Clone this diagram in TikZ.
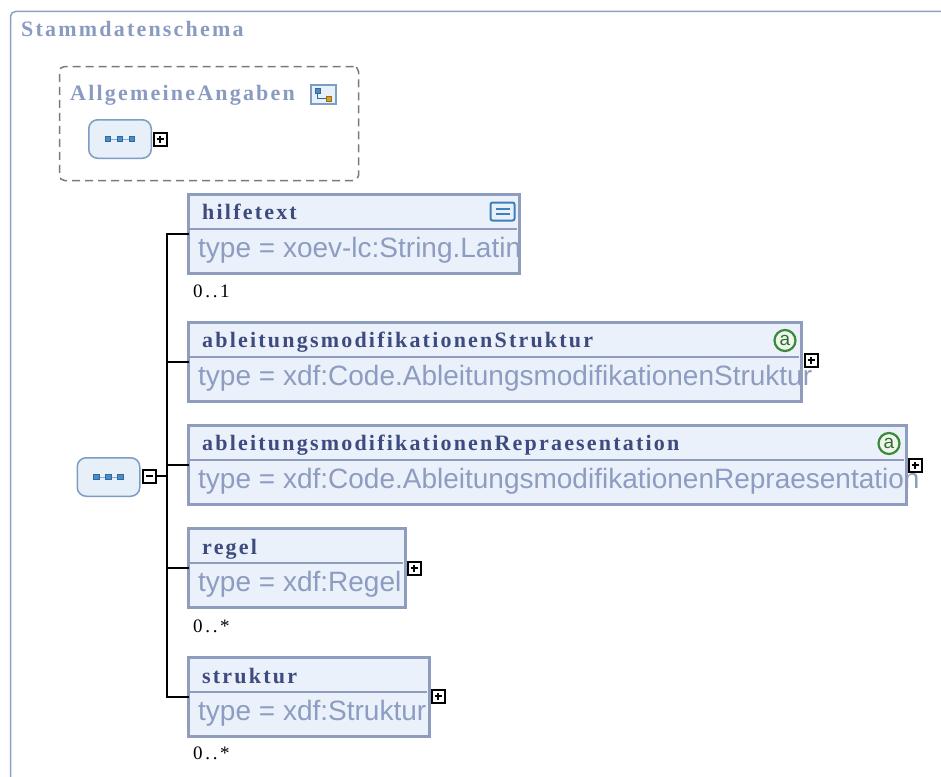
\documentclass[tikz,border=0pt]{standalone}
\usepackage{fontspec}
\setmainfont{Liberation Serif}
\newfontfamily\lblfont{Liberation Serif}[LetterSpace=10]
\newfontfamily\cardfont{Liberation Serif}[LetterSpace=14]
\newfontfamily\typefont{Liberation Sans}
\newfontfamily\iconfont{Liberation Sans}
\definecolor{framecol}{HTML}{8EA0C4}
\definecolor{titlecol}{HTML}{8A9BC2}
\definecolor{boxborder}{HTML}{8E9CBD}
\definecolor{boxfill}{HTML}{EAF1FB}
\definecolor{lblcol}{HTML}{3D4B7E}
\definecolor{typecol}{HTML}{8D9CC0}
\definecolor{seqborder}{HTML}{7D9DC3}
\definecolor{seqfill}{HTML}{E7EFF8}
\definecolor{seqsq}{HTML}{4A8CC4}
\definecolor{seqsqd}{HTML}{2F6A9E}
\definecolor{grpgray}{HTML}{7A7A7A}
\definecolor{iconblue}{HTML}{3F80BA}
\definecolor{iconfill}{HTML}{E8F0FA}
\definecolor{attrgreen}{HTML}{3A8A3A}
\definecolor{attrfill}{HTML}{EEF6EE}
\definecolor{grporange}{HTML}{D4A02A}
\begin{document}
\begin{tikzpicture}[x=1pt,y=-1pt,
  elembox/.style={rectangle, fill=boxfill, inner sep=0pt, outer sep=0pt, anchor=north west, minimum height=79pt},
  boxframe/.style={draw=boxborder, line width=3pt},
  divider/.style={draw=boxborder, line width=2pt},
  lbl/.style={anchor=base west, inner sep=0pt, text=lblcol, font={\lblfont\bfseries\fontsize{22}{26}\selectfont}},
  titletxt/.style={anchor=base west, inner sep=0pt, text=titlecol, font={\lblfont\bfseries\fontsize{22}{26}\selectfont}},
  typetxt/.style={anchor=base west, inner sep=0pt, text=typecol, font={\typefont\fontsize{28}{32}\selectfont}},
  card/.style={anchor=base west, inner sep=0pt, text=black, font={\cardfont\fontsize{19}{21}\selectfont}},
  plusbox/.style={rectangle, draw=black, fill=white, line width=2pt, minimum size=13pt, inner sep=0pt,
    path picture={\draw[line width=1.5pt] ([xshift=-3.5pt]path picture bounding box.center) -- ([xshift=3.5pt]path picture bounding box.center);
                  \draw[line width=1.5pt] ([yshift=-3.5pt]path picture bounding box.center) -- ([yshift=3.5pt]path picture bounding box.center);}},
  minusbox/.style={rectangle, draw=black, fill=white, line width=2pt, minimum size=13pt, inner sep=0pt,
    path picture={\draw[line width=1.5pt] ([xshift=-3.5pt]path picture bounding box.center) -- ([xshift=3.5pt]path picture bounding box.center);}},
  seqbox/.style={rectangle, rounded corners=9pt, draw=seqborder, fill=seqfill, line width=1.5pt,
    minimum width=62.5pt, minimum height=38.5pt, inner sep=0pt,
    path picture={
      \draw[sharp corners, seqsq!70!white, line width=1pt] ([xshift=-12pt]path picture bounding box.center) -- ([xshift=12pt]path picture bounding box.center);
      \foreach \dx in {-12,0,12}{\draw[sharp corners, seqsqd, fill=seqsq, line width=0.8pt] ([xshift=\dx pt-2.8pt, yshift=-2.8pt]path picture bounding box.center) rectangle ([xshift=\dx pt+2.8pt, yshift=2.8pt]path picture bounding box.center);}
    }},
  conn/.style={draw=black, line width=2pt},
  attr/.style={circle, draw=attrgreen, fill=attrfill, line width=2.2pt, minimum size=21pt, inner sep=0pt,
    text=attrgreen!80!black, font={\iconfont\fontsize{19}{19}\selectfont}},
  texticon/.style={rectangle, rounded corners=2pt, draw=iconblue, fill=iconfill, line width=2pt,
    minimum width=24pt, minimum height=18pt, inner sep=0pt,
    path picture={
      \draw[sharp corners, iconblue, line width=1.5pt] ([xshift=-7pt,yshift=2.5pt]path picture bounding box.center) -- ([xshift=7pt,yshift=2.5pt]path picture bounding box.center);
      \draw[sharp corners, iconblue, line width=1.5pt] ([xshift=-7pt,yshift=-2.5pt]path picture bounding box.center) -- ([xshift=7pt,yshift=-2.5pt]path picture bounding box.center);}},
  grpicon/.style={rectangle, draw=seqborder, fill=iconfill, line width=1.5pt,
    minimum width=25pt, minimum height=19pt, inner sep=0pt,
    path picture={
      \draw[seqsqd, line width=1pt] ([xshift=-6pt,yshift=4pt]path picture bounding box.center) |- ([xshift=5pt,yshift=-4pt]path picture bounding box.center);
      \draw[seqsqd, fill=seqsq, line width=0.8pt] ([xshift=-8.5pt,yshift=1.5pt]path picture bounding box.center) rectangle ([xshift=-3.5pt,yshift=6.5pt]path picture bounding box.center);
      \draw[grporange!70!black, fill=grporange, line width=0.8pt] ([xshift=2.5pt,yshift=-6.5pt]path picture bounding box.center) rectangle ([xshift=7.5pt,yshift=-1.5pt]path picture bounding box.center);}},
  grpbox/.style={rectangle, draw=grpgray, line width=1.5pt, dash pattern=on 8pt off 5pt, rounded corners=5pt,
    inner sep=0pt, anchor=north west}
]
\useasboundingbox (0,0) rectangle (941,776);
\fill[white] (0,0) rectangle (941,776);

% outer frame (clipped by page)
\draw[framecol, line width=1.5pt, rounded corners=5pt] (10.5,790) -- (10.5,11.5) -- (960,11.5);
\node[titletxt] (title) at (21,37) {Stammdatenschema};

% group "Allgemeine Angaben"
\node[grpbox, minimum width=299pt, minimum height=114pt] (grp) at (58.75,65.75) {};
\node[titletxt] (grptitle) at (70,100) {AllgemeineAngaben};
\node[grpicon] (grpico) at (323.5,94.5) {};
\node[seqbox] (seqtop) at (120,139) {};
\node[plusbox] (seqtopplus) at (160,139) {};

% main sequence
\node[seqbox] (seq) at (108.5,477) {};
\node[minusbox] (seqminus) at (149,476) {};

% element boxes (fill)
\node[elembox, minimum width=331pt] (hilf)  at (188.5,194.5) {};
\node[elembox, minimum width=613pt] (ams)   at (188.5,322.5) {};
\node[elembox, minimum width=718pt] (amr)   at (188.5,425.5) {};
\node[elembox, minimum width=217pt] (regel) at (188.5,528.5) {};
\node[elembox, minimum width=241pt] (strk)  at (188.5,657.5) {};

% type texts
\node[typetxt] (hilftype)  at (198,257) {type = xoev-lc:String.Latin};
\node[typetxt] (amstype)   at (198,385) {type = xdf:Code.AbleitungsmodifikationenStruktur};
\node[typetxt] (amrtype)   at (198,488) {type = xdf:Code.AbleitungsmodifikationenRepraesentation};
\node[typetxt] (regeltype) at (198,591) {type = xdf:Regel};
\node[typetxt] (strktype)  at (198,720) {type = xdf:Struktur};

% frames and dividers
\foreach \b in {hilf,ams,amr,regel,strk}{
  \draw[boxframe] (\b.north west) rectangle (\b.south east);
  \draw[divider] ([xshift=1pt,yshift=-34.5pt]\b.north west) -- ([xshift=-3pt,yshift=-34.5pt]\b.north east);
}

% labels
\node[lbl] (hilflbl)  at (202,219) {hilfetext};
\node[lbl] (amslbl)   at (202,347) {ableitungsmodifikationenStruktur};
\node[lbl] (amrlbl)   at (202,450) {ableitungsmodifikationenRepraesentation};
\node[lbl] (regellbl) at (202,554) {regel};
\node[lbl] (strklbl)  at (202,683) {struktur};

% icons
\node[texticon] (hilfico) at (502.5,211.5) {};
\node[attr] (amsattr) at (785,340.5) {a};
\node[attr] (amrattr) at (889,443.5) {a};

% plus boxes
\node[plusbox] (amsplus)   at (811,360) {};
\node[plusbox] (amrplus)   at (915,465) {};
\node[plusbox] (regelplus) at (414,568) {};
\node[plusbox] (strkplus)  at (438,696) {};

% cardinalities
\node[card] (hilfcard)  at (193,297) {0..1};
\node[card] (regelcard) at (193,632) {0..*};
\node[card] (strkcard)  at (193,759) {0..*};

% connectors
\coordinate (spine) at (167,0);
\draw[conn] (hilf.west) -| (spine |- strk.west) -- (strk.west);
\draw[conn] (ams.west) -- (ams.west -| spine);
\draw[conn] (amr.west) -- (amr.west -| spine);
\draw[conn] (regel.west) -- (regel.west -| spine);
\draw[conn] (seqminus.east) -- (seqminus.east -| spine);
\end{tikzpicture}
\end{document}
